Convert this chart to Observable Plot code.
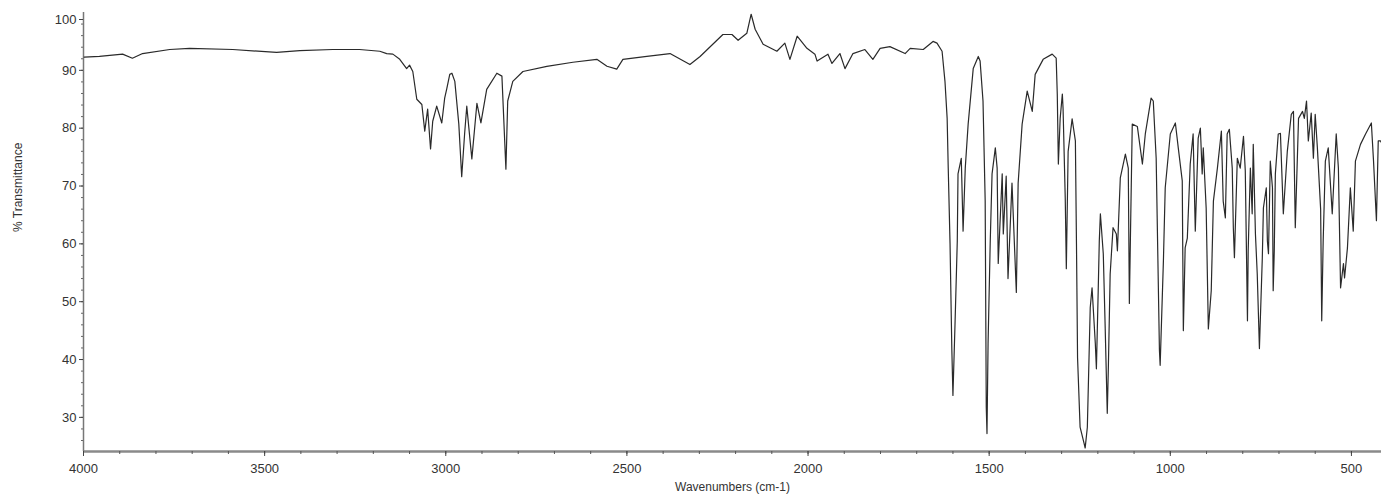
<!DOCTYPE html>
<html>
<head>
<meta charset="utf-8">
<script src="https://cdn.jsdelivr.net/npm/d3@7"></script>
<script src="https://cdn.jsdelivr.net/npm/@observablehq/plot@0.6"></script>
<style>
  html, body { margin: 0; padding: 0; background: #fff; }
  #chart svg { display: block; }
</style>
</head>
<body>
<div id="chart"></div>
<script>
// IR spectrum: wavenumber (cm-1) and % transmittance
const wavenumber = [
  3998, 3956, 3892, 3865, 3837, 3762, 3707, 3588, 3467, 3403, 3312, 3238, 3182, 3163, 3146, 3127,
  3108, 3100, 3091, 3080, 3066, 3058, 3050, 3042, 3036, 3025, 3011, 3003, 2997, 2989, 2983, 2975,
  2964, 2956, 2948, 2942, 2928, 2914, 2903, 2887, 2859, 2845, 2834, 2829, 2815, 2787, 2721, 2649,
  2583, 2555, 2528, 2511, 2445, 2381, 2326, 2298, 2235, 2210, 2193, 2169, 2157, 2146, 2124, 2086,
  2064, 2050, 2030, 2003, 1981, 1975, 1945, 1934, 1912, 1898, 1876, 1843, 1821, 1801, 1774, 1732,
  1718, 1682, 1655, 1644, 1630, 1622, 1616, 1613, 1608, 1603, 1600, 1594, 1588, 1586, 1577, 1572,
  1566, 1558, 1544, 1530, 1525, 1517, 1511, 1508, 1506, 1503, 1497, 1492, 1483, 1478, 1475, 1464,
  1461, 1453, 1448, 1437, 1425, 1420, 1409, 1395, 1381, 1373, 1351, 1326, 1315, 1312, 1309, 1304,
  1298, 1296, 1290, 1287, 1282, 1271, 1262, 1259, 1256, 1249, 1238, 1235, 1229, 1221, 1216, 1207,
  1204, 1199, 1196, 1193, 1185, 1180, 1174, 1171, 1166, 1158, 1149, 1146, 1138, 1124, 1116, 1113,
  1105, 1091, 1077, 1069, 1053, 1047, 1039, 1030, 1028, 1019, 1014, 1000, 986, 978, 967, 964,
  959, 953, 945, 937, 931, 923, 917, 912, 909, 901, 895, 887, 881, 870, 859, 854,
  848, 843, 837, 829, 826, 823, 815, 807, 798, 793, 787, 785, 779, 774, 771, 765,
  760, 754, 746, 743, 735, 732, 729, 724, 718, 716, 713, 710, 702, 696, 688, 677,
  666, 660, 655, 646, 635, 630, 624, 619, 611, 605, 600, 594, 585, 582, 578, 572,
  564, 553, 542, 536, 530, 522, 519, 511, 503, 495, 489, 475, 461, 445, 439, 431,
  426, 420, 417
];
const transmittance = [
  92.3, 92.4, 92.8, 92.1, 92.9, 93.6, 93.8, 93.6, 93.1, 93.4, 93.6, 93.6, 93.3, 92.9, 92.8, 91.9,
  90.3, 90.9, 89.8, 85.0, 84.1, 79.5, 83.3, 76.4, 81.2, 83.8, 80.9, 85.2, 86.9, 89.3, 89.5, 88.1,
  80.7, 71.6, 79.0, 83.8, 74.7, 84.3, 80.9, 86.7, 89.5, 89.0, 72.9, 84.7, 88.1, 89.8, 90.7, 91.4,
  91.9, 90.7, 90.2, 91.9, 92.4, 92.9, 91.0, 92.4, 96.2, 96.2, 95.2, 96.4, 99.7, 97.1, 94.5, 93.3,
  94.7, 91.9, 95.9, 93.8, 92.8, 91.6, 92.8, 91.2, 92.9, 90.3, 92.9, 93.6, 91.9, 93.8, 94.1, 92.9,
  93.8, 93.6, 95.0, 94.7, 93.3, 88.1, 81.7, 73.1, 60.0, 41.6, 33.8, 46.7, 60.5, 72.1, 74.8, 62.2,
  73.1, 80.7, 90.3, 92.4, 91.6, 84.7, 67.4, 31.7, 27.2, 42.8, 60.5, 72.1, 76.6, 73.1, 56.6, 72.1,
  61.7, 71.7, 54.0, 70.5, 51.6, 70.5, 80.7, 86.4, 82.9, 89.3, 91.9, 92.8, 92.1, 85.9, 73.8, 81.7,
  85.9, 83.4, 67.9, 55.7, 76.0, 81.6, 77.8, 60.0, 40.3, 28.3, 25.5, 24.7, 28.3, 49.0, 52.4, 42.8,
  38.4, 51.9, 60.5, 65.2, 58.3, 46.2, 30.7, 38.6, 54.8, 62.8, 61.7, 58.8, 71.4, 75.5, 73.1, 49.7,
  80.7, 80.3, 73.8, 79.0, 85.2, 84.7, 74.8, 41.6, 39.0, 57.1, 69.7, 79.0, 80.9, 76.6, 70.9, 45.0,
  59.3, 61.0, 73.8, 79.0, 62.2, 78.3, 80.0, 72.1, 76.6, 66.2, 45.3, 51.9, 67.4, 73.1, 79.5, 67.4,
  64.5, 79.0, 79.8, 73.1, 62.8, 57.6, 74.8, 73.1, 78.6, 72.6, 46.7, 58.8, 73.1, 65.2, 77.2, 61.7,
  54.8, 41.9, 57.6, 66.2, 69.7, 60.5, 58.3, 74.3, 69.7, 51.9, 58.8, 72.1, 79.0, 79.1, 65.2, 76.0,
  82.4, 82.9, 62.8, 81.7, 82.9, 81.7, 84.7, 77.8, 82.6, 74.8, 82.4, 76.6, 66.0, 46.7, 60.5, 74.3,
  76.6, 65.2, 79.0, 73.1, 52.4, 56.6, 54.1, 59.3, 69.7, 62.2, 74.3, 77.2, 79.0, 80.9, 74.3, 64.0,
  77.8, 77.8, 77.5
];
const xTickValues = [4000, 3500, 3000, 2500, 2000, 1500, 1000, 500];
const yTickValues = [30, 40, 50, 60, 70, 80, 90];
const yTopTick = [100];
const xDomain = [4000, 417];
const yDomain = [24.1, 100];
const xLabel = "Wavenumbers (cm-1)";
const yLabel = "% Transmittance";

const spectrum = wavenumber.map((w, i) => ({w, t: transmittance[i]}));
const xMinor = d3.range(xDomain[0], xDomain[1], -100);
const yMinor = d3.range(26, 100, 2);

const chart = Plot.plot({
  width: 1381,
  height: 498,
  marginLeft: 83,
  marginRight: 0,
  marginTop: 12,
  marginBottom: 47,
  style: {fontFamily: "'Liberation Sans', Arial, sans-serif", fontSize: "13px", color: "#333", background: "#fff"},
  x: {domain: xDomain, axis: null},
  y: {domain: yDomain, axis: null},
  marks: [
    Plot.ruleY([yDomain[0]], {stroke: "#8a8a8a", strokeWidth: 2.5}),
    Plot.ruleX([xDomain[0]], {stroke: "#777", strokeWidth: 1.5}),
    Plot.axisX({ticks: xMinor, tickSize: 3, stroke: "#555", text: null, label: null}),
    Plot.axisX({ticks: xTickValues, tickSize: 5, tickPadding: 7, tickFormat: d3.format("d"), stroke: "#444", fill: "#333", label: null}),
    Plot.axisY({ticks: yMinor, tickSize: 2, stroke: "#666", text: null, label: null}),
    Plot.axisY({ticks: yTickValues, tickSize: 4, tickPadding: 3, tickFormat: d3.format("d"), stroke: "#444", fill: "#333", label: null}),
    Plot.axisY({ticks: yTopTick, tickSize: 4, tickPadding: 3, tickFormat: d3.format("d"), stroke: "#444", fill: "#333", dy: 7, label: null}),
    Plot.line(spectrum, {x: "w", y: "t", stroke: "#2a2a2a", strokeWidth: 1.2, clip: true}),
    Plot.text([xLabel], {frameAnchor: "bottom", dy: 39, fill: "#333", fontSize: 12}),
    Plot.text([yLabel], {frameAnchor: "left", dx: -65, rotate: -90, fill: "#333", fontSize: 12})
  ]
});
document.getElementById("chart").appendChild(chart);
</script>
</body>
</html>
